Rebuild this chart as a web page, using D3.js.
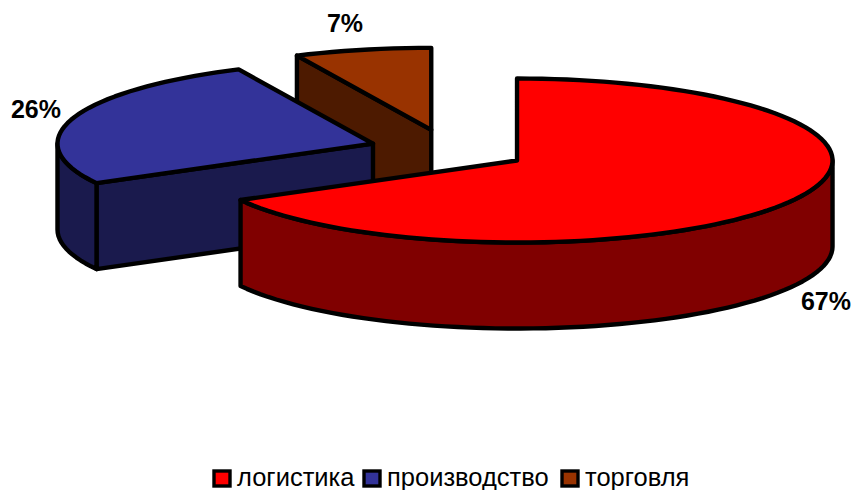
<!DOCTYPE html>
<html>
<head>
<meta charset="utf-8">
<script src="https://cdn.jsdelivr.net/npm/d3@7"></script>
<style>
  html, body { margin: 0; padding: 0; background: #fff; }
  svg { display: block; }
  text { font-family: "Liberation Sans", Arial, sans-serif; fill: #000; }
</style>
</head>
<body>
<svg id="chart" width="855" height="490"></svg>
<script>
// Sector shares of an exploded 3D pie
const categories = ["логистика", "производство", "торговля"];
const shares = [67, 26, 7];
const percentLabels = ["67%", "26%", "7%"];
const topColors = ["#FF0000", "#333399", "#993300"];
const sideColors = ["#800000", "#1A1A4D", "#4D1A00"];

// Projection of the tilted disc
const centre = { x: 448.6, y: 150 };
const radiusX = 315.5, radiusY = 82, depth = 86, explosion = 0.252;
const strokeW = 4.4;

const svg = d3.select("#chart");
const pie = d3.pie().sort(null).value(d => d);
const arcs = pie(shares).map((a, i) => ({ ...a, i }));

const pointOn = (o, angle, drop = 0) => [
  o.x + radiusX * Math.sin(angle),
  o.y - radiusY * Math.cos(angle) + drop
];
const sampleAngles = (a0, a1) => {
  const n = Math.max(2, Math.ceil((a1 - a0) / 0.04));
  return d3.range(n + 1).map(k => a0 + (a1 - a0) * k / n);
};
const path = d3.line().curve(d3.curveLinear);

const layer = svg.append("g");

// Back slices first so the nearer ones overlap them
[...arcs].sort((a, b) => a.value - b.value).forEach(d => {
  const mid = (d.startAngle + d.endAngle) / 2;
  const o = {
    x: centre.x + explosion * radiusX * Math.sin(mid),
    y: centre.y - explosion * radiusY * Math.cos(mid)
  };
  const g = layer.append("g").attr("class", "slice");
  const style = (sel, fill) => sel
    .attr("fill", fill).attr("stroke", "#000")
    .attr("stroke-width", strokeW).attr("stroke-linejoin", "round");

  // Radial cut faces: only those turned towards the viewer
  const faces = [];
  if (Math.sin(d.startAngle) < -1e-6) faces.push(d.startAngle);
  if (Math.sin(d.endAngle) > 1e-6) faces.push(d.endAngle);
  faces.forEach(angle => {
    const rim = pointOn(o, angle);
    const pts = [[o.x, o.y], rim, [rim[0], rim[1] + depth], [o.x, o.y + depth]];
    style(g.append("path").attr("d", path(pts) + "Z"), sideColors[d.i]);
  });

  // Outer wall on the front half of the rim
  const w0 = Math.max(d.startAngle, Math.PI / 2);
  const w1 = Math.min(d.endAngle, 3 * Math.PI / 2);
  if (w1 > w0) {
    const upper = sampleAngles(w0, w1).map(a => pointOn(o, a));
    const lower = sampleAngles(w0, w1).reverse().map(a => pointOn(o, a, depth));
    style(g.append("path").attr("d", path(upper.concat(lower)) + "Z"), sideColors[d.i]);
  }

  // Top surface
  const rimPts = sampleAngles(d.startAngle, d.endAngle).map(a => pointOn(o, a));
  style(g.append("path").attr("d", path([[o.x, o.y], ...rimPts]) + "Z"), topColors[d.i]);
});

// Percentage labels
const labelAnchors = [[826, 310], [36, 118], [345, 32]];
svg.append("g").selectAll("text").data(percentLabels).join("text")
  .attr("x", (d, i) => labelAnchors[i][0])
  .attr("y", (d, i) => labelAnchors[i][1])
  .attr("text-anchor", "middle")
  .attr("font-size", 25)
  .attr("font-weight", "bold")
  .text(d => d);

// Legend
const legendX = [214, 364, 562];
const legend = svg.append("g").selectAll("g").data(categories).join("g")
  .attr("transform", (d, i) => `translate(${legendX[i]},471)`);
legend.append("rect")
  .attr("width", 16).attr("height", 15)
  .attr("fill", (d, i) => topColors[i])
  .attr("stroke", "#000").attr("stroke-width", 3.4);
legend.append("text")
  .attr("x", 23).attr("y", 14.5)
  .attr("font-size", 25.5)
  .text(d => d);
</script>
</body>
</html>
